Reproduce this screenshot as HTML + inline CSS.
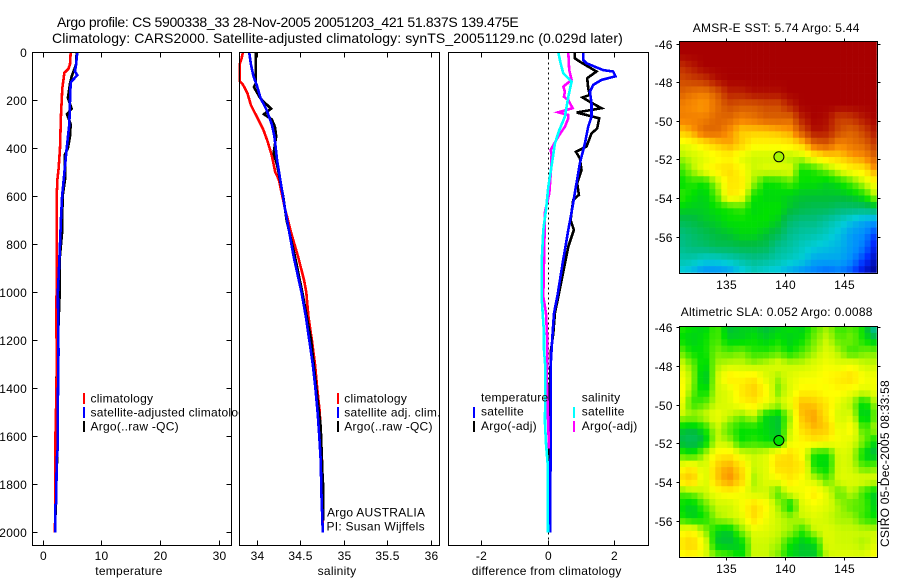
<!DOCTYPE html>
<html lang="en">
<head>
<meta charset="utf-8">
<title>Argo profile chart</title>
<style>
html,body{margin:0;padding:0;background:#fff;}
svg{display:block;font-family:"Liberation Sans",sans-serif;font-size:12px;letter-spacing:.25px;fill:#000;}
</style>
</head>
<body>
<svg id="figure" xmlns="http://www.w3.org/2000/svg" width="900" height="580" viewBox="0 0 900 580">
<rect x="0" y="0" width="900" height="580" fill="#fff"/>
<text x="57" y="27" font-size="14" textLength="462" lengthAdjust="spacing">Argo profile: CS 5900338_33 28-Nov-2005 20051203_421 51.837S 139.475E</text>
<text x="52" y="43" font-size="14" textLength="571" lengthAdjust="spacing">Climatology: CARS2000. Satellite-adjusted climatology: synTS_20051129.nc (0.029d later)</text>

<g id="panel-temp">
<rect x="32.5" y="52.5" width="199" height="493" fill="#fff"/>
<g id="temp-marks"></g>
<g id="temp-axes"></g>
<text x="129" y="575" text-anchor="middle">temperature</text>
<g>
<rect x="83" y="393" width="2" height="11" fill="#f00"/>
<text x="90.5" y="402.3">climatology</text>
<rect x="83" y="407" width="2" height="11" fill="#00f"/>
<text x="90.5" y="416.3">satellite-adjusted climatology</text>
<rect x="83" y="421" width="2" height="11" fill="#000"/>
<text x="90.5" y="430.3">Argo(..raw -QC)</text>
</g>
</g>

<g id="panel-sal">
<rect x="239.5" y="52.5" width="200" height="493" fill="#fff"/>
<g id="sal-marks"></g>
<g id="sal-axes"></g>
<text x="337" y="575" text-anchor="middle">salinity</text>
<g>
<rect x="337" y="393" width="2" height="11" fill="#f00"/>
<text x="344.3" y="402.3">climatology</text>
<rect x="337" y="407" width="2" height="11" fill="#00f"/>
<text x="344.3" y="416.3">satellite adj. clim.</text>
<rect x="337" y="421" width="2" height="11" fill="#000"/>
<text x="344.3" y="430.3">Argo(..raw -QC)</text>
</g>
<text x="327" y="516.7">Argo AUSTRALIA</text>
<text x="326.5" y="530.7">PI: Susan Wijffels</text>
</g>

<g id="panel-diff">
<rect x="448.5" y="52.5" width="200" height="493" fill="#fff"/>
<g id="diff-marks"></g>
<g id="diff-axes"></g>
<text x="546.7" y="575" text-anchor="middle">difference from climatology</text>
<g>
<text x="481" y="401.7">temperature</text>
<rect x="473" y="407" width="2" height="11" fill="#00f"/>
<text x="481" y="415.7">satellite</text>
<rect x="473" y="421" width="2" height="11" fill="#000"/>
<text x="481" y="430">Argo(-adj)</text>
<text x="581.7" y="401.7">salinity</text>
<rect x="573" y="407" width="2" height="11" fill="#0ff"/>
<text x="581.7" y="415.7">satellite</text>
<rect x="573" y="421" width="2" height="11" fill="#f0f"/>
<text x="581.7" y="430">Argo(-adj)</text>
</g>
</g>

<g id="map-sst"></g>
<text x="692.7" y="32" textLength="167" lengthAdjust="spacing">AMSR-E SST: 5.74  Argo: 5.44</text>
<g id="map-sla"></g>
<text x="680.7" y="316" textLength="192" lengthAdjust="spacing">Altimetric SLA: 0.052  Argo: 0.0088</text>
<text transform="translate(889 547) rotate(-90)" textLength="167" lengthAdjust="spacing">CSIRO 05-Dec-2005 08:33:58</text>
</svg>

<script>
/* ---------- profile data ---------- */
const depthTicks = [0, 200, 400, 600, 800, 1000, 1200, 1400, 1600, 1800, 2000];
const tempTicks = [0, 10, 20, 30];
const salTicks = [34, 34.5, 35, 35.5, 36];
const salTickLabels = ['34', '34.5', '35', '35.5', '36'];
const diffTicks = [-2, 0, 2];

const tempClimDepth = [0, 50, 70, 85, 150, 270, 400, 480, 530, 600, 1000, 1050, 1250, 1400, 1630, 1800, 2000];
const tempClimValue = [4.67, 4.55, 4.27, 3.6, 3.25, 3.0, 2.85, 2.62, 2.4, 2.28, 2.28, 2.2, 2.28, 2.25, 2.05, 2.05, 2.0];
const tempSatDepth = [0, 50, 80, 95, 110, 125, 200, 300, 400, 500, 600, 700, 800, 900, 1000, 1250, 1450, 1650, 1700, 1880, 1885, 2000];
const tempSatValue = [5.8, 5.6, 5.4, 5.8, 5.24, 4.67, 4.55, 4.44, 4.0, 3.6, 3.2, 3.0, 2.85, 2.68, 2.5, 2.6, 2.5, 2.45, 2.28, 2.2, 2.05, 2.05];
const tempArgoDepth = [0, 50, 100, 130, 190, 235, 258, 300, 350, 400, 425, 530, 600, 750, 860, 1000, 1380, 1450, 1650, 1950];
const tempArgoValue = [5.7, 5.6, 4.85, 4.55, 4.2, 4.85, 4.05, 4.67, 4.55, 4.2, 3.7, 3.7, 3.3, 3.2, 2.8, 2.8, 2.22, 2.22, 2.4, 2.05];

const salClimDepth = [0, 30, 50, 120, 135, 170, 220, 270, 320, 370, 430, 500, 530, 650, 750, 850, 950, 1000, 1100, 1200, 1300, 1400, 1500, 1600, 1700, 1800, 2000];
const salClimValue = [33.84, 33.82, 33.8, 33.8, 33.84, 33.89, 33.93, 34.0, 34.07, 34.12, 34.17, 34.21, 34.25, 34.32, 34.39, 34.47, 34.54, 34.565, 34.59, 34.63, 34.665, 34.69, 34.72, 34.73, 34.745, 34.75, 34.755];
const salArgoDepth = [0, 130, 145, 190, 210, 235, 258, 280, 310, 350, 420, 470, 600, 700, 850, 1000, 1200, 1400, 1560, 1750, 1820, 1950];
const salArgoValue = [33.985, 33.985, 33.965, 34.035, 34.09, 34.16, 34.08, 34.17, 34.205, 34.22, 34.19, 34.23, 34.3, 34.34, 34.435, 34.52, 34.62, 34.68, 34.73, 34.75, 34.76, 34.76];
const salSatDepth = [0, 50, 100, 140, 190, 240, 300, 350, 450, 550, 650, 750, 850, 1000, 1100, 1200, 1300, 1400, 1500, 1600, 1700, 1850, 2000];
const salSatValue = [33.91, 33.93, 33.96, 34.0, 34.04, 34.11, 34.17, 34.2, 34.23, 34.275, 34.32, 34.37, 34.42, 34.51, 34.56, 34.6, 34.64, 34.67, 34.695, 34.715, 34.73, 34.74, 34.755];

const diffTempArgoDepth = [0, 25, 39, 53, 80, 108, 150, 178, 188, 205, 233, 251, 265, 275, 317, 338, 393, 414, 442, 490, 546, 594, 615, 699, 740, 810, 949, 1018, 1087, 1171, 1240, 1500, 1750];
const diffTempArgoValue = [0.8, 0.8, 0.95, 1.12, 1.45, 1.17, 1.2, 1.25, 1.03, 1.23, 1.6, 0.85, 1.25, 1.53, 1.47, 1.3, 1.15, 0.83, 0.95, 1.0, 0.87, 0.92, 0.75, 0.67, 0.77, 0.6, 0.4, 0.3, 0.2, 0.15, 0.08, 0.03, 0.03];
const diffTempSatDepth = [0, 32, 46, 74, 80, 100, 115, 136, 164, 212, 268, 310, 380, 462, 560, 643, 740, 880, 1018, 1087, 1171, 1240, 1310, 1670, 2000];
const diffTempSatValue = [1.05, 1.05, 1.15, 1.65, 1.95, 2.02, 1.6, 1.35, 1.25, 1.3, 1.3, 1.2, 1.1, 0.95, 0.83, 0.73, 0.6, 0.43, 0.27, 0.17, 0.13, 0.1, 0.07, 0.07, 0.05];
const diffSalArgoDepth = [0, 74, 115, 143, 164, 185, 199, 233, 250, 261, 275, 310, 351, 407, 425, 490, 588, 664, 810, 1018, 1087, 1200, 1310, 1340, 1600, 1650];
const diffSalArgoValue = [0.6, 0.63, 0.7, 0.45, 0.5, 0.47, 0.6, 0.73, 0.3, 0.6, 0.6, 0.5, 0.3, 0.07, 0.1, 0.08, 0.03, -0.1, -0.12, -0.15, -0.07, -0.03, -0.03, -0.05, 0.01, 0.01];
const diffSalSatDepth = [0, 46, 88, 122, 185, 268, 324, 380, 462, 560, 657, 740, 880, 1018, 1171, 1240, 1310, 1546, 1630, 1710, 2000];
const diffSalSatValue = [0.3, 0.37, 0.45, 0.7, 0.6, 0.5, 0.33, 0.2, 0.11, 0, -0.07, -0.15, -0.2, -0.2, -0.13, -0.13, -0.09, -0.1, -0.07, -0.02, -0.01];

/* ---------- map data: colour-scale level at grid nodes, north to south ---------- */
const mapLonTicks = [135, 140, 145];
const mapLatTicks = [-46, -48, -50, -52, -54, -56];
const argoLon = [139.475];
const argoLat = [-51.837];
const sstArgoLevel = [58];
const slaArgoLevel = [50];
const sstLevels = [
[100,100,100,100,100,100,100,100,100,100,100,100,100,100,100,100,100],
[100,100,100,100,100,100,100,100,100,100,100,100,100,100,100,100,100],
[92,96,100,100,100,100,100,100,100,100,100,100,100,100,100,100,100],
[88,90,92,98,100,100,100,100,100,100,100,100,100,100,100,100,100],
[85,82,80,85,95,95,98,98,98,100,100,100,100,100,100,100,100],
[80,78,76,82,88,86,86,88,88,95,100,100,100,100,100,100,100],
[80,80,80,84,84,80,82,85,85,84,96,100,98,90,92,97,100],
[72,76,84,84,78,72,72,72,74,76,88,98,96,88,84,90,98],
[62,64,68,72,76,72,66,66,66,68,72,84,86,78,82,84,92],
[58,60,62,64,66,62,60,60,60,58,60,66,70,72,76,78,86],
[52,58,64,68,70,66,60,62,62,62,50,52,56,62,66,68,78],
[49,52,50,58,68,68,58,50,51,54,50,50,48,50,54,60,66],
[53,50,48,54,68,66,51,49,49,48,47,47,47,47,48,51,60],
[49,48,48,50,51,53,49,50,50,47,45,44,44,42,42,42,45],
[44,45,47,48,50,50,50,50,48,42,40,40,37,34,30,26,24],
[40,42,44,46,47,49,49,47,44,39,37,36,34,30,24,22,14],
[39,41,42,44,44,45,45,44,39,37,34,32,30,28,24,20,8],
[36,36,33,33,35,37,39,38,36,34,32,26,26,26,22,14,4],
[32,28,22,22,24,30,34,32,30,26,22,20,18,20,16,6,0]
];
const slaLevels = [
[52,50,48,54,46,48,48,46,48,50,48,54,58,52,54,50,34],
[50,48,50,54,48,48,50,48,50,48,50,56,60,54,56,50,46],
[56,50,50,56,54,56,52,52,54,50,54,58,62,58,52,56,56],
[62,56,48,58,60,60,58,60,62,60,60,62,64,62,64,60,60],
[66,58,45,60,68,66,68,62,58,62,64,64,66,68,70,64,64],
[68,56,48,60,62,68,72,66,56,62,66,66,64,66,64,62,64],
[66,52,54,60,62,66,68,64,60,64,74,72,68,62,58,48,60],
[60,58,60,64,60,56,60,49,47,58,74,76,68,60,62,45,56],
[48,46,50,60,54,50,50,49,47,60,70,74,72,62,66,52,60],
[45,43,46,60,58,50,52,50,48,62,66,68,66,64,62,56,48],
[54,50,58,66,68,62,60,62,68,70,64,50,50,62,60,48,45],
[64,68,60,72,76,70,60,62,70,70,68,50,49,62,60,54,56],
[70,74,60,72,78,72,58,62,64,68,64,60,54,62,62,62,62],
[54,56,60,64,66,64,60,60,54,62,64,68,62,54,60,52,47],
[50,47,54,60,60,64,70,66,58,49,62,64,62,58,54,54,47],
[52,48,50,58,60,62,70,64,60,58,60,62,60,58,58,52,50],
[64,66,58,49,47,56,62,62,60,58,52,60,62,60,60,60,60],
[68,72,64,47,46,48,60,60,58,50,47,49,62,60,60,58,62],
[64,66,62,56,54,49,60,60,56,49,47,47,60,62,62,62,66]
];

/* ---------- axis functions ---------- */
const NS = 'http://www.w3.org/2000/svg';
const yDepth = d => 52.3 + d * 0.24;
const xTemp = v => 43.3 + v * 5.86;
const xSal = v => 257 + (v - 34) * 87.2;
const xDiff = v => 548.3 + v * 33.25;

function svgEl(parent, tag, attrs) {
  const el = document.createElementNS(NS, tag);
  for (const k in attrs) el.setAttribute(k, attrs[k]);
  parent.appendChild(el);
  return el;
}

function drawSeries(parentId, name, depths, values, xFn, color) {
  const pts = depths.map((d, i) => xFn(values[i]).toFixed(1) + ',' + yDepth(d).toFixed(1)).join(' ');
  const line = svgEl(document.getElementById(parentId), 'polyline', {
    points: pts, fill: 'none', stroke: color, 'stroke-width': 2.6, 'shape-rendering': 'crispEdges'
  });
  
  
}

function drawTick(g, x1, y1, x2, y2, name) {
  const t = svgEl(g, 'line', {x1: x1, y1: y1, x2: x2, y2: y2, stroke: '#000', 'stroke-width': 1, 'shape-rendering': 'crispEdges'});
  
  
}

function drawLabel(g, x, y, anchor, str, name) {
  const t = svgEl(g, 'text', {x: x, y: y, 'text-anchor': anchor});
  t.textContent = str;
  
  
}

function drawFrame(g, l, t, r, b) {
  const f = svgEl(g, 'rect', {x: l, y: t, width: r - l, height: b - t, fill: 'none', stroke: '#000', 'stroke-width': 1, 'shape-rendering': 'crispEdges'});
  
  
}

function snap(v) { return Math.round(v - 0.5) + 0.5; }

function drawPanelAxes(id, l, r, xFn, ticks, labels, showDepth) {
  const g = document.getElementById(id);
  const t = 52.5, b = 545.5;
  drawFrame(g, l, t, r, b);
  ticks.forEach((v, i) => {
    const x = snap(xFn(v));
    drawTick(g, x, t, x, t + 5, 'x-tick-top');
    drawTick(g, x, b, x, b - 5, 'x-tick-bottom');
    drawLabel(g, x, 560, 'middle', labels[i], 'x-tick-label');
  });
  if (showDepth) {
    depthTicks.forEach(d => {
      const y = snap(yDepth(d));
      drawTick(g, l, y, l + 5, y, 'y-tick-left');
      drawTick(g, r, y, r - 5, y, 'y-tick-right');
      drawLabel(g, 27, y + 4.5, 'end', String(d), 'y-tick-label');
    });
  }
}

/* ---------- profile panels ---------- */
drawSeries('temp-marks', 'temperature-argo-line', tempArgoDepth, tempArgoValue, xTemp, '#000');
drawSeries('temp-marks', 'temperature-climatology-line', tempClimDepth, tempClimValue, xTemp, '#f00');
drawSeries('temp-marks', 'temperature-satellite-line', tempSatDepth, tempSatValue, xTemp, '#00f');
drawPanelAxes('temp-axes', 32.5, 231.5, xTemp, tempTicks, tempTicks.map(String), true);

drawSeries('sal-marks', 'salinity-climatology-line', salClimDepth, salClimValue, xSal, '#f00');
drawSeries('sal-marks', 'salinity-argo-line', salArgoDepth, salArgoValue, xSal, '#000');
drawSeries('sal-marks', 'salinity-satellite-line', salSatDepth, salSatValue, xSal, '#00f');
drawPanelAxes('sal-axes', 239.5, 439.5, xSal, salTicks, salTickLabels, false);

const zeroLine = svgEl(document.getElementById('diff-marks'), 'line', {
  x1: snap(xDiff(0)), y1: 52.5, x2: snap(xDiff(0)), y2: 545.5, stroke: '#000', 'stroke-width': 1, 'stroke-dasharray': '2 3', 'shape-rendering': 'crispEdges'
});


drawSeries('diff-marks', 'difference-temperature-argo-line', diffTempArgoDepth, diffTempArgoValue, xDiff, '#000');
drawSeries('diff-marks', 'difference-temperature-satellite-line', diffTempSatDepth, diffTempSatValue, xDiff, '#00f');
drawSeries('diff-marks', 'difference-salinity-argo-line', diffSalArgoDepth, diffSalArgoValue, xDiff, '#f0f');
drawSeries('diff-marks', 'difference-salinity-satellite-line', diffSalSatDepth, diffSalSatValue, xDiff, '#0ff');
drawPanelAxes('diff-axes', 448.5, 648.5, xDiff, diffTicks, diffTicks.map(String), false);

/* ---------- maps ---------- */
const colorStops = [
  [0, [0, 0, 140]], [12, [0, 40, 255]], [22, [0, 140, 255]], [32, [0, 205, 215]],
  [40, [0, 190, 130]], [46, [0, 190, 60]], [50, [0, 225, 0]], [56, [120, 240, 0]],
  [60, [205, 250, 0]], [65, [255, 255, 0]], [72, [255, 205, 0]], [78, [250, 140, 0]],
  [86, [215, 90, 0]], [94, [190, 40, 0]], [100, [168, 0, 0]]
];

function levelColor(v) {
  const c = Math.max(0, Math.min(100, v));
  for (let i = 1; i < colorStops.length; i++) {
    if (c <= colorStops[i][0]) {
      const a = colorStops[i - 1], b = colorStops[i];
      const f = (c - a[0]) / (b[0] - a[0]);
      const rgb = a[1].map((q, k) => Math.round(q + (b[1][k] - q) * f));
      return 'rgb(' + rgb.join(',') + ')';
    }
  }
  return 'rgb(168,0,0)';
}

function sampleGrid(grid, fx, fy) {
  const rows = grid.length - 1, cols = grid[0].length - 1;
  const gx = fx * cols, gy = fy * rows;
  const x0 = Math.min(cols - 1, Math.floor(gx)), y0 = Math.min(rows - 1, Math.floor(gy));
  const tx = gx - x0, ty = gy - y0;
  const top = grid[y0][x0] * (1 - tx) + grid[y0][x0 + 1] * tx;
  const bot = grid[y0 + 1][x0] * (1 - tx) + grid[y0 + 1][x0 + 1] * tx;
  return top * (1 - ty) + bot * ty;
}

function drawMap(id, grid, box, lat46Y, argoLevel) {
  const g = document.getElementById(id);
  const xLon = lon => 726 + (lon - 135) * 11.83;
  const yLat = lat => lat46Y + (-46 - lat) * 19.33;
  const nCols = 33, nRows = 36;
  const cw = (box.r - box.l) / nCols, ch = (box.b - box.t) / nRows;
  for (let r = 0; r < nRows; r++) {
    for (let c = 0; c < nCols; c++) {
      const v = sampleGrid(grid, (c + 0.5) / nCols, (r + 0.5) / nRows);
      const cell = svgEl(g, 'rect', {
        x: (box.l + c * cw).toFixed(2), y: (box.t + r * ch).toFixed(2),
        width: (cw + 0.3).toFixed(2), height: (ch + 0.3).toFixed(2), fill: levelColor(v)
      });
      
      
    }
  }
  const L = box.l - 0.5, R = box.r + 1, T = box.t - 0.5, B = box.b + 0.5;
  drawFrame(g, snap(L), snap(T), snap(R), snap(B));
  mapLonTicks.forEach(lon => {
    const x = snap(xLon(lon));
    drawTick(g, x, snap(T), x, snap(T) - 3, 'lon-tick-top');
    drawTick(g, x, snap(B), x, snap(B) + 3, 'lon-tick-bottom');
    drawLabel(g, x, box.b + 16.5, 'middle', String(lon), 'lon-tick-label');
  });
  mapLatTicks.forEach(lat => {
    const y = snap(yLat(lat));
    drawTick(g, snap(L), y, snap(L) - 3, y, 'lat-tick-left');
    drawTick(g, snap(R), y, snap(R) + 3, y, 'lat-tick-right');
    drawLabel(g, 672.7, y + 4.5, 'end', String(lat), 'lat-tick-label');
  });
  const marker = svgEl(g, 'circle', {
    cx: xLon(argoLon[0]).toFixed(1), cy: yLat(argoLat[0]).toFixed(1), r: 5,
    fill: levelColor(argoLevel[0]), stroke: '#000', 'stroke-width': 1
  });
  
  
}

drawMap('map-sst', sstLevels, {l: 679.5, r: 876.5, t: 41.5, b: 272.5}, 44, sstArgoLevel);
drawMap('map-sla', slaLevels, {l: 679.5, r: 876.5, t: 326.5, b: 556.5}, 327.7, slaArgoLevel);
</script>
</body>
</html>
